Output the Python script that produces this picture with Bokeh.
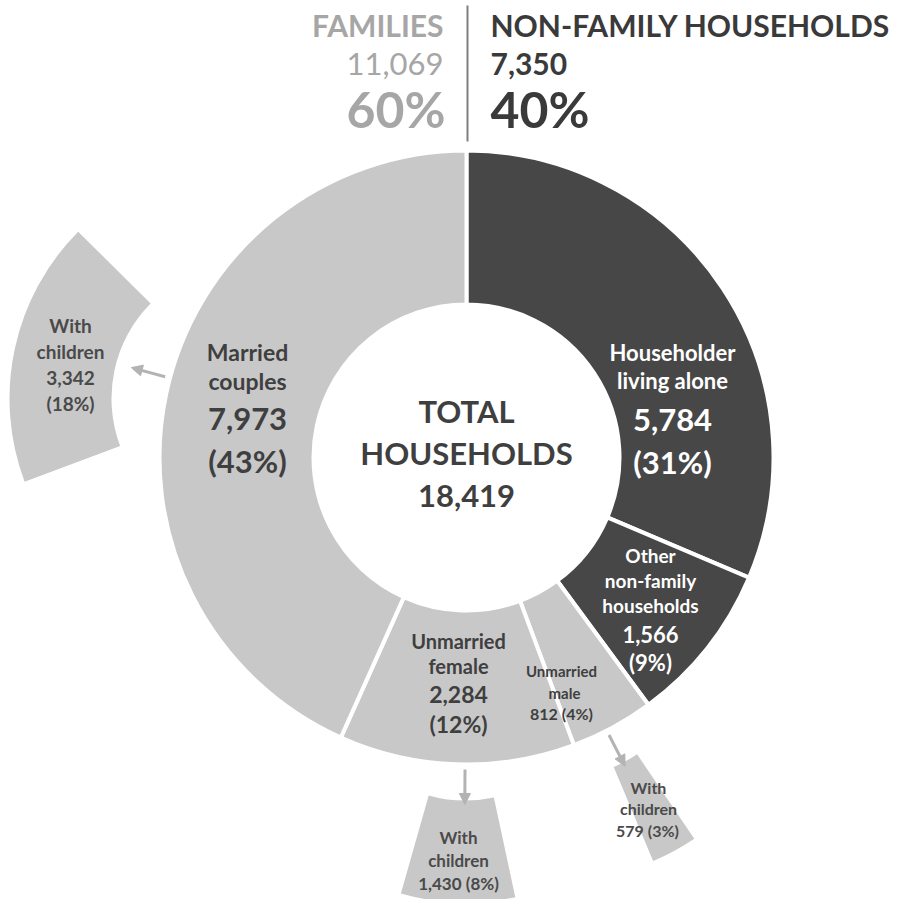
import numpy as np
from bokeh.plotting import figure
from bokeh.models import Range1d, ColumnDataSource, Arrow, NormalHead
from bokeh.core.properties import value
from bokeh.embed import file_html
from bokeh.resources import INLINE

# ---------------- data ----------------
total_households = 18419
families_total = 11069
nonfamily_total = 7350
families_pct = 60
nonfamily_pct = 40

slice_names = ["Householder living alone", "Other non-family households",
               "Unmarried male", "Unmarried female", "Married couples"]
slice_values = [5784, 1566, 812, 2284, 7973]
slice_pcts = [31, 9, 4, 12, 43]
slice_group = ["non-family", "non-family", "family", "family", "family"]

child_parent = ["Married couples", "Unmarried female", "Unmarried male"]
child_values = [3342, 1430, 579]
child_pcts = [18, 8, 3]

# ---------------- layout / style ----------------
FONT = value("Lato")
LIGHT = "#c8c8c8"
DARK = "#474747"
TXT = "#3f3f3f"
HEAD_LIGHT = "#a6a6a6"
CX, CY = 466, 457          # donut centre (page pixels)
R_IN, R_OUT = 153, 307
PIECE_IN, PIECE_OUT = 135, 237
piece_vertex = {"Married couples": (246, 398),
                "Unmarried female": (465, 665),
                "Unmarried male": (561, 642)}

W, H = 894, 899
p = figure(width=W, height=H, x_range=Range1d(0, W), y_range=Range1d(-H, 0),
           output_backend="svg", toolbar_location=None, min_border=0)
p.axis.visible = False
p.grid.visible = False
p.outline_line_color = None
p.background_fill_color = "white"
p.border_fill_color = "white"


def Y(y):
    return -y


# ---------------- donut ----------------
vals = np.array(slice_values, dtype=float)
cum = np.concatenate([[0.0], np.cumsum(vals)]) / vals.sum() * 2 * np.pi
starts = np.pi / 2 - cum[1:]
ends = np.pi / 2 - cum[:-1]
mids = (starts + ends) / 2
colors = [DARK if g == "non-family" else LIGHT for g in slice_group]
src = ColumnDataSource(dict(start=starts, end=ends, color=colors))
p.annular_wedge(x=CX, y=Y(CY), inner_radius=R_IN, outer_radius=R_OUT,
                start_angle="start", end_angle="end", fill_color="color",
                line_color="white", line_width=4, source=src)

# ---------------- detached "with children" pieces + arrows ----------------
mid_of = dict(zip(slice_names, mids))
for name, v in zip(child_parent, child_values):
    span = v / total_households * 2 * np.pi
    m = mid_of[name]
    vx, vy = piece_vertex[name]
    p.annular_wedge(x=vx, y=Y(vy), inner_radius=PIECE_IN, outer_radius=PIECE_OUT,
                    start_angle=m - span / 2, end_angle=m + span / 2,
                    fill_color=LIGHT, line_color=None)
    ang = np.arctan2(-(vy - CY), vx - CX)
    x0, y0 = CX + 312 * np.cos(ang), Y(CY) + 312 * np.sin(ang)
    x1, y1 = CX + 347 * np.cos(ang), Y(CY) + 347 * np.sin(ang)
    p.add_layout(Arrow(x_start=x0, y_start=y0, x_end=x1, y_end=y1,
                       line_color="#b3b3b3", line_width=3,
                       end=NormalHead(size=11, fill_color="#b3b3b3", line_color="#b3b3b3")))


def txt(x, y, s, size, color=TXT, align="center", bold=True):
    p.text(x=[x], y=[Y(y)], text=[s], text_font=FONT, text_font_size=f"{size}px",
           text_color=color, text_align=align, text_baseline="middle",
           text_font_style="bold" if bold else "normal")


def fmt(n):
    return f"{n:,}"


# ---------------- header ----------------
p.line(x=[467, 467], y=[Y(5), Y(141)], line_color="#808080", line_width=2)
txt(443, 24, "FAMILIES", 30, HEAD_LIGHT, "right")
txt(443, 63, fmt(families_total), 31, HEAD_LIGHT, "right", bold=False)
txt(445, 108, f"{families_pct}%", 50, HEAD_LIGHT, "right")
txt(490, 24, "NON-FAMILY HOUSEHOLDS", 30, "#3a3a3a", "left")
txt(490, 63, fmt(nonfamily_total), 30, "#3a3a3a", "left")
txt(490, 108, f"{nonfamily_pct}%", 50, "#3a3a3a", "left")

# ---------------- centre ----------------
txt(CX, 410, "TOTAL", 31)
txt(CX, 452, "HOUSEHOLDS", 31)
txt(CX, 495, fmt(total_households), 31)

# ---------------- slice labels ----------------
sv = dict(zip(slice_names, slice_values))
sp = dict(zip(slice_names, slice_pcts))

n = "Married couples"
txt(247, 351, "Married", 23)
txt(247, 380, "couples", 23)
txt(247, 418, fmt(sv[n]), 31)
txt(247, 460, f"({sp[n]}%)", 31)

n = "Householder living alone"
txt(672, 352, "Householder", 22, "white")
txt(672, 380, "living alone", 22, "white")
txt(672, 419, fmt(sv[n]), 31, "white")
txt(672, 461, f"({sp[n]}%)", 31, "white")

n = "Other non-family households"
txt(650, 555, "Other", 19, "white")
txt(650, 580, "non-family", 19, "white")
txt(650, 605, "households", 19, "white")
txt(650, 634, fmt(sv[n]), 22, "white")
txt(650, 662, f"({sp[n]}%)", 22, "white")

n = "Unmarried female"
txt(458, 640, "Unmarried", 20)
txt(458, 665, "female", 20)
txt(458, 694, fmt(sv[n]), 23)
txt(458, 723, f"({sp[n]}%)", 23)

n = "Unmarried male"
txt(561, 670, "Unmarried", 15)
txt(564, 692, "male", 15)
txt(561, 713, f"{fmt(sv[n])} ({sp[n]}%)", 16)

# ---------------- child piece labels ----------------
cv = dict(zip(child_parent, child_values))
cp = dict(zip(child_parent, child_pcts))
n = "Married couples"
txt(70, 325, "With", 19, "#4a4a4a")
txt(70, 351, "children", 19, "#4a4a4a")
txt(70, 377, fmt(cv[n]), 19, "#4a4a4a")
txt(70, 403, f"({cp[n]}%)", 19, "#4a4a4a")

n = "Unmarried female"
txt(458, 837, "With", 17, "#4a4a4a")
txt(458, 860, "children", 17, "#4a4a4a")
txt(458, 883, f"{fmt(cv[n])} ({cp[n]}%)", 17, "#4a4a4a")

n = "Unmarried male"
txt(648, 787, "With", 16, "#4a4a4a")
txt(648, 808, "children", 16, "#4a4a4a")
txt(647, 830, f"{fmt(cv[n])} ({cp[n]}%)", 16, "#4a4a4a")

open("out.html", "w").write(file_html(p, INLINE))
